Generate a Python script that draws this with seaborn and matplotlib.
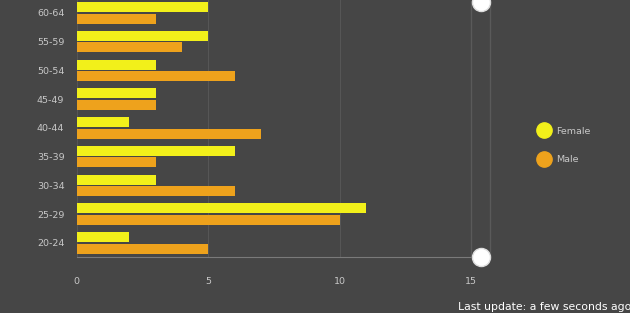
import pandas as pd
import matplotlib
matplotlib.use("Agg")
import matplotlib.pyplot as plt
from matplotlib.lines import Line2D
import seaborn as sns

# age groups, top to bottom
age_groups = ["60-64", "55-59", "50-54", "45-49", "40-44", "35-39", "30-34", "25-29", "20-24"]
female = [5, 5, 3, 3, 2, 6, 3, 11, 2]
male = [3, 4, 6, 3, 7, 3, 6, 10, 5]
x_ticks = [0, 5, 10, 15]

BG = "#464646"
TXT = "#c8c8c8"
colors = {"Female": "#f2f01a", "Male": "#eea21c"}

df = pd.DataFrame({
    "age": age_groups * 2,
    "count": female + male,
    "sex": ["Female"] * len(female) + ["Male"] * len(male),
})

sns.set_style("dark")
plt.rcParams["font.family"] = ["DejaVu Sans"]

fig = plt.figure(figsize=(6.3, 3.13), dpi=100, facecolor=BG)
ax = fig.add_axes([0.122, 0.178, 0.626, 0.827])
ax.set_facecolor(BG)

sns.barplot(data=df, y="age", x="count", hue="sex", order=age_groups,
            hue_order=["Female", "Male"], palette=colors, orient="h",
            width=0.8, gap=0.12, saturation=1, linewidth=0, legend=False, ax=ax)

ax.set_xlim(0, 15)
ax.set_ylim(len(age_groups) - 0.5, -0.5)
ax.set_xticks(x_ticks)
ax.set_xticklabels([str(t) for t in x_ticks])
ax.set_xlabel("")
ax.set_ylabel("")
ax.grid(axis="x", color="#565656", lw=0.8)
ax.grid(axis="y", visible=False)
ax.set_axisbelow(True)
for s in ["top", "right", "left"]:
    ax.spines[s].set_visible(False)
ax.spines["bottom"].set_color("#7a7a7a")
ax.spines["bottom"].set_linewidth(0.8)
ax.tick_params(axis="x", colors=TXT, labelsize=6.8, length=4, pad=10, color="#6a6a6a")
ax.tick_params(axis="y", colors=TXT, labelsize=6.8, length=0, pad=9)

# range slider on the right
for xs in (1.0, 1.048):
    ax.plot([xs, xs], [0, 0.99], transform=ax.transAxes, clip_on=False,
            color="#5a5a5a", lw=1)
ax.plot([1.025, 1.025], [0.0, 0.985], transform=ax.transAxes, clip_on=False,
        ls="none", marker="o", ms=13, mfc="white", mec="#dddddd")

handles = [Line2D([], [], ls="none", marker="o", ms=11, color=colors[k]) for k in colors]
leg = fig.legend(handles, list(colors), loc="center left", bbox_to_anchor=(0.835, 0.535),
                 frameon=False, fontsize=6.8, labelspacing=2.1, handletextpad=0.3)
for t in leg.get_texts():
    t.set_color(TXT)

fig.text(0.727, 0.01, "Last update: a few seconds ago", color="white", fontsize=7.8)

fig.savefig("out.png", dpi=100, facecolor=BG)
